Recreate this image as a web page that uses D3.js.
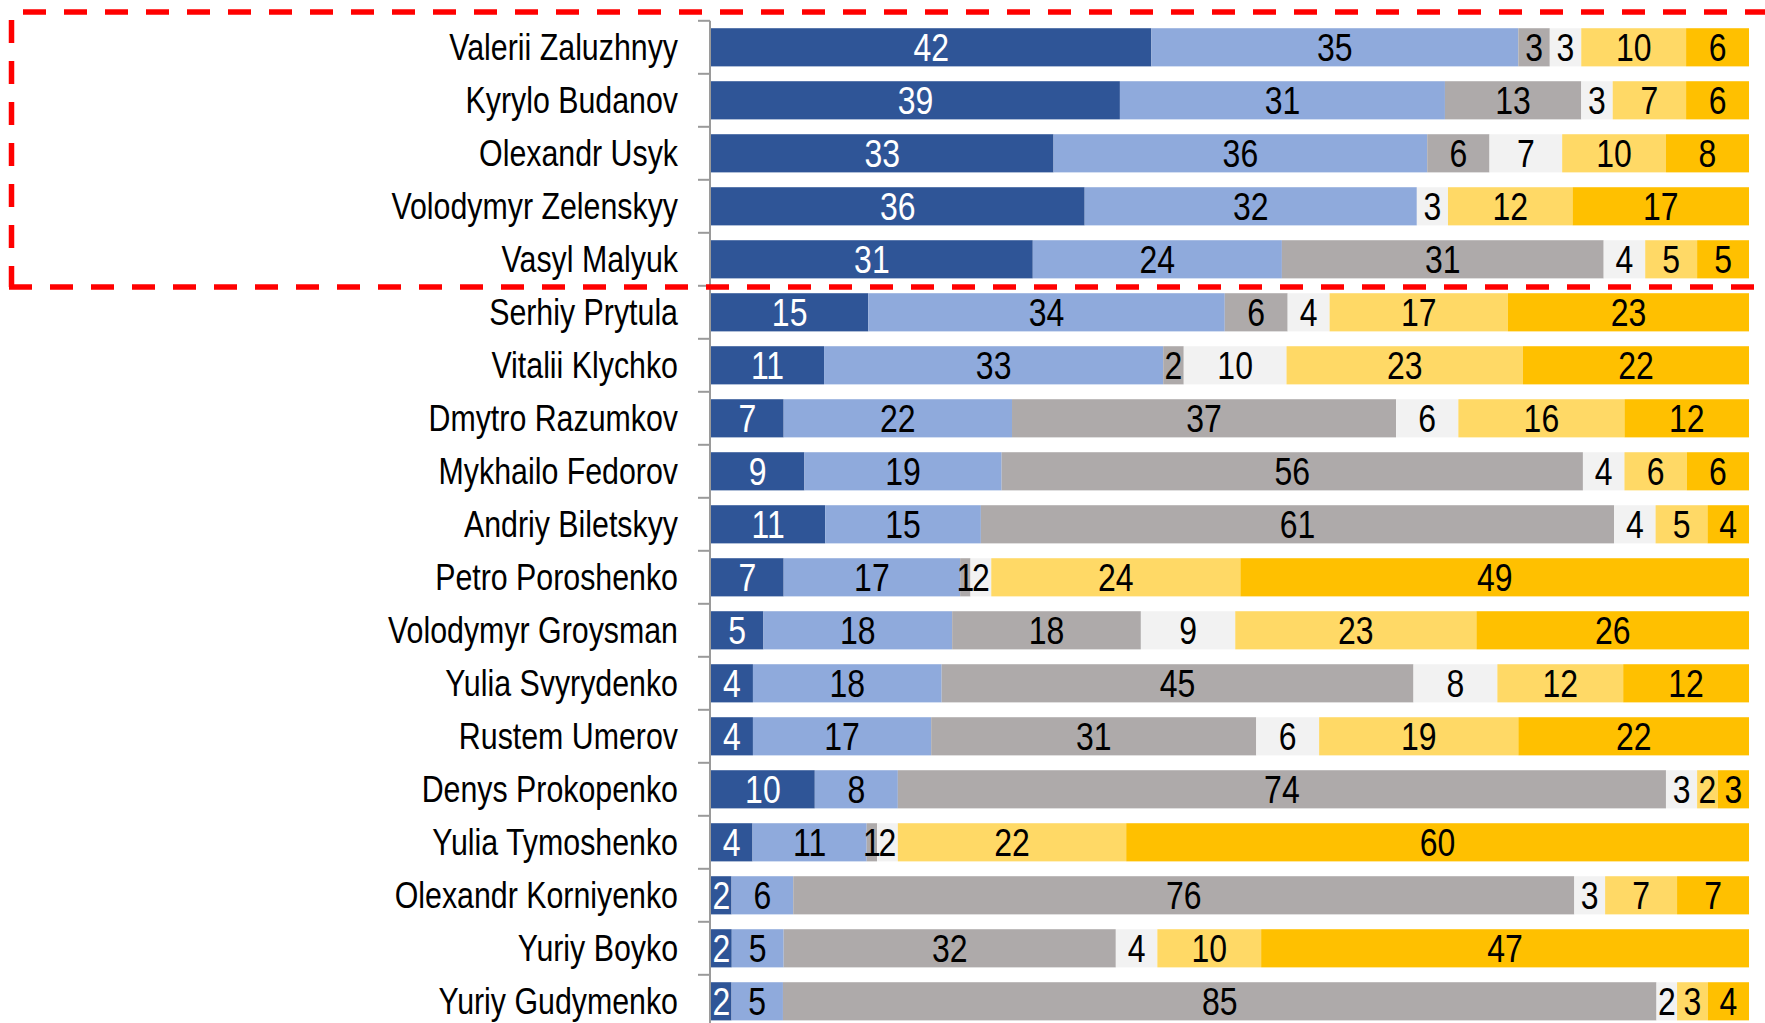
<!DOCTYPE html>
<html>
<head>
<meta charset="utf-8">
<script src="https://cdn.jsdelivr.net/npm/d3@7"></script>
<style>
    body { margin: 0; background: #ffffff; }
    svg { display: block; }
    .nameLabel, .valueLabel {
        font-family: "Liberation Sans", Arial, sans-serif;
    }
</style>
</head>
<body>
<script>

// ----- Data -----
const names = [
    "Valerii Zaluzhnyy", "Kyrylo Budanov", "Olexandr Usyk", "Volodymyr Zelenskyy",
    "Vasyl Malyuk", "Serhiy Prytula", "Vitalii Klychko", "Dmytro Razumkov",
    "Mykhailo Fedorov", "Andriy Biletskyy", "Petro Poroshenko", "Volodymyr Groysman",
    "Yulia Svyrydenko", "Rustem Umerov", "Denys Prokopenko", "Yulia Tymoshenko",
    "Olexandr Korniyenko", "Yuriy Boyko", "Yuriy Gudymenko"
];

// one array per answer category, same order as names
const fullyTrust    = [42, 39, 33, 36, 31, 15, 11,  7,  9, 11,  7,  5,  4,  4, 10,  4,  2,  2,  2];
const ratherTrust   = [35, 31, 36, 32, 24, 34, 33, 22, 19, 15, 17, 18, 18, 17,  8, 11,  6,  5,  5];
const dontKnowWho   = [ 3, 13,  6,  0, 31,  6,  2, 37, 56, 61,  1, 18, 45, 31, 74,  1, 76, 32, 85];
const hardToSay     = [ 3,  3,  7,  3,  4,  4, 10,  6,  4,  4,  2,  9,  8,  6,  3,  2,  3,  4,  2];
const ratherDistrust= [10,  7, 10, 12,  5, 17, 23, 16,  6,  5, 24, 23, 12, 19,  2, 22,  7, 10,  3];
const fullyDistrust = [ 6,  6,  8, 17,  5, 23, 22, 12,  6,  4, 49, 26, 12, 22,  3, 60,  7, 47,  4];

const seriesKeys   = ["fully", "rather", "unknown", "hard", "ratherNot", "notAtAll"];
const seriesColors = ["#2F5597", "#8FAADC", "#AEAAAA", "#F2F2F2", "#FFD966", "#FFC000"];
const textColors   = ["#ffffff", "#000000", "#000000", "#000000", "#000000", "#000000"];

// build rows for d3.stack
const rows = names.map(function(n, i) {
    return {
        name: n,
        fully: fullyTrust[i],
        rather: ratherTrust[i],
        unknown: dontKnowWho[i],
        hard: hardToSay[i],
        ratherNot: ratherDistrust[i],
        notAtAll: fullyDistrust[i]
    };
});

const width = 1765;
const height = 1023;
const axisX = 710;
const narrow = 0.82; // no Arial Narrow installed, squeeze Liberation Sans instead

const svg = d3.select("body")
    .append("svg")
    .attr("width", width)
    .attr("height", height);

// X scale: percent of the row (100% stacked like the original)
let x = d3.scaleLinear()
    .domain([0, 100])
    .range([axisX + 1, 1749]);

// Y scale: one band per person
let y = d3.scaleBand()
    .domain(names)
    .range([20.8, 20.8 + 53 * names.length])
    .paddingInner(0.28)
    .paddingOuter(0.14);

// stack, then normalise each row to 100
let stacked = d3.stack()
    .keys(seriesKeys)
    .offset(d3.stackOffsetExpand)(rows);

const layers = svg.selectAll(".layer")
    .data(stacked)
    .enter()
    .append("g")
    .attr("class", "layer")
    .attr("fill", function(d, i) { return seriesColors[i] });

layers.selectAll("rect")
    .data(function(d) { return d })
    .enter()
    .append("rect")
    .attr("x", function(d) { return x(d[0] * 100) })
    .attr("y", function(d) { return y(d.data.name) })
    .attr("width", function(d) { return Math.max(0, x(d[1] * 100) - x(d[0] * 100)) })
    .attr("height", y.bandwidth());

// value labels in the middle of each segment
stacked.forEach(function(layer, li) {
    svg.append("g")
        .selectAll("text")
        .data(layer.filter(function(d) { return d.data[layer.key] > 0 }))
        .enter()
        .append("text")
        .attr("class", "valueLabel")
        .attr("transform", function(d) {
            let tx = x((d[0] + d[1]) / 2 * 100);
            let ty = y(d.data.name) + y.bandwidth() / 2 + 13.5;
            return "translate(" + tx + "," + ty + ") scale(" + narrow + ",1)";
        })
        .attr("text-anchor", "middle")
        .attr("font-size", "39px")
        .attr("fill", textColors[li])
        .text(function(d) { return d.data[layer.key] });
});

// ----- Left axis: line + ticks between categories -----
const axisG = svg.append("g").attr("stroke", "#9a9a9a").attr("stroke-width", 2);

axisG.append("line")
    .attr("x1", axisX).attr("x2", axisX)
    .attr("y1", y.range()[0]).attr("y2", height);

axisG.selectAll(".tick")
    .data(d3.range(names.length + 1))
    .enter()
    .append("line")
    .attr("x1", axisX - 12).attr("x2", axisX)
    .attr("y1", function(i) { return y.range()[0] + i * y.step() })
    .attr("y2", function(i) { return y.range()[0] + i * y.step() });

svg.append("g")
    .selectAll("text")
    .data(names)
    .enter()
    .append("text")
    .attr("class", "nameLabel")
    .attr("transform", function(d) {
        return "translate(" + (axisX - 32) + "," + (y(d) + y.bandwidth() / 2 + 12.5) + ") scale(" + narrow + ",1)";
    })
    .attr("text-anchor", "end")
    .attr("font-size", "37px")
    .attr("fill", "#000000")
    .text(function(d) { return d });

// ----- Red dashed highlight box round the top five -----
const box = svg.append("g")
    .attr("stroke", "#FF0000")
    .attr("stroke-width", 5.5)
    .attr("fill", "none")
    .attr("stroke-dasharray", "23,18");

box.append("line")
    .attr("x1", 11.5).attr("x2", width)
    .attr("y1", 12).attr("y2", 12)
    .attr("stroke-dashoffset", 29.5);

box.append("line")
    .attr("x1", 11.5).attr("x2", 11.5)
    .attr("y1", 12).attr("y2", 287)
    .attr("stroke-dashoffset", 33);

box.append("line")
    .attr("x1", 9).attr("x2", width)
    .attr("y1", 287).attr("y2", 287)
    .attr("stroke-dashoffset", 0);

</script>
</body>
</html>
